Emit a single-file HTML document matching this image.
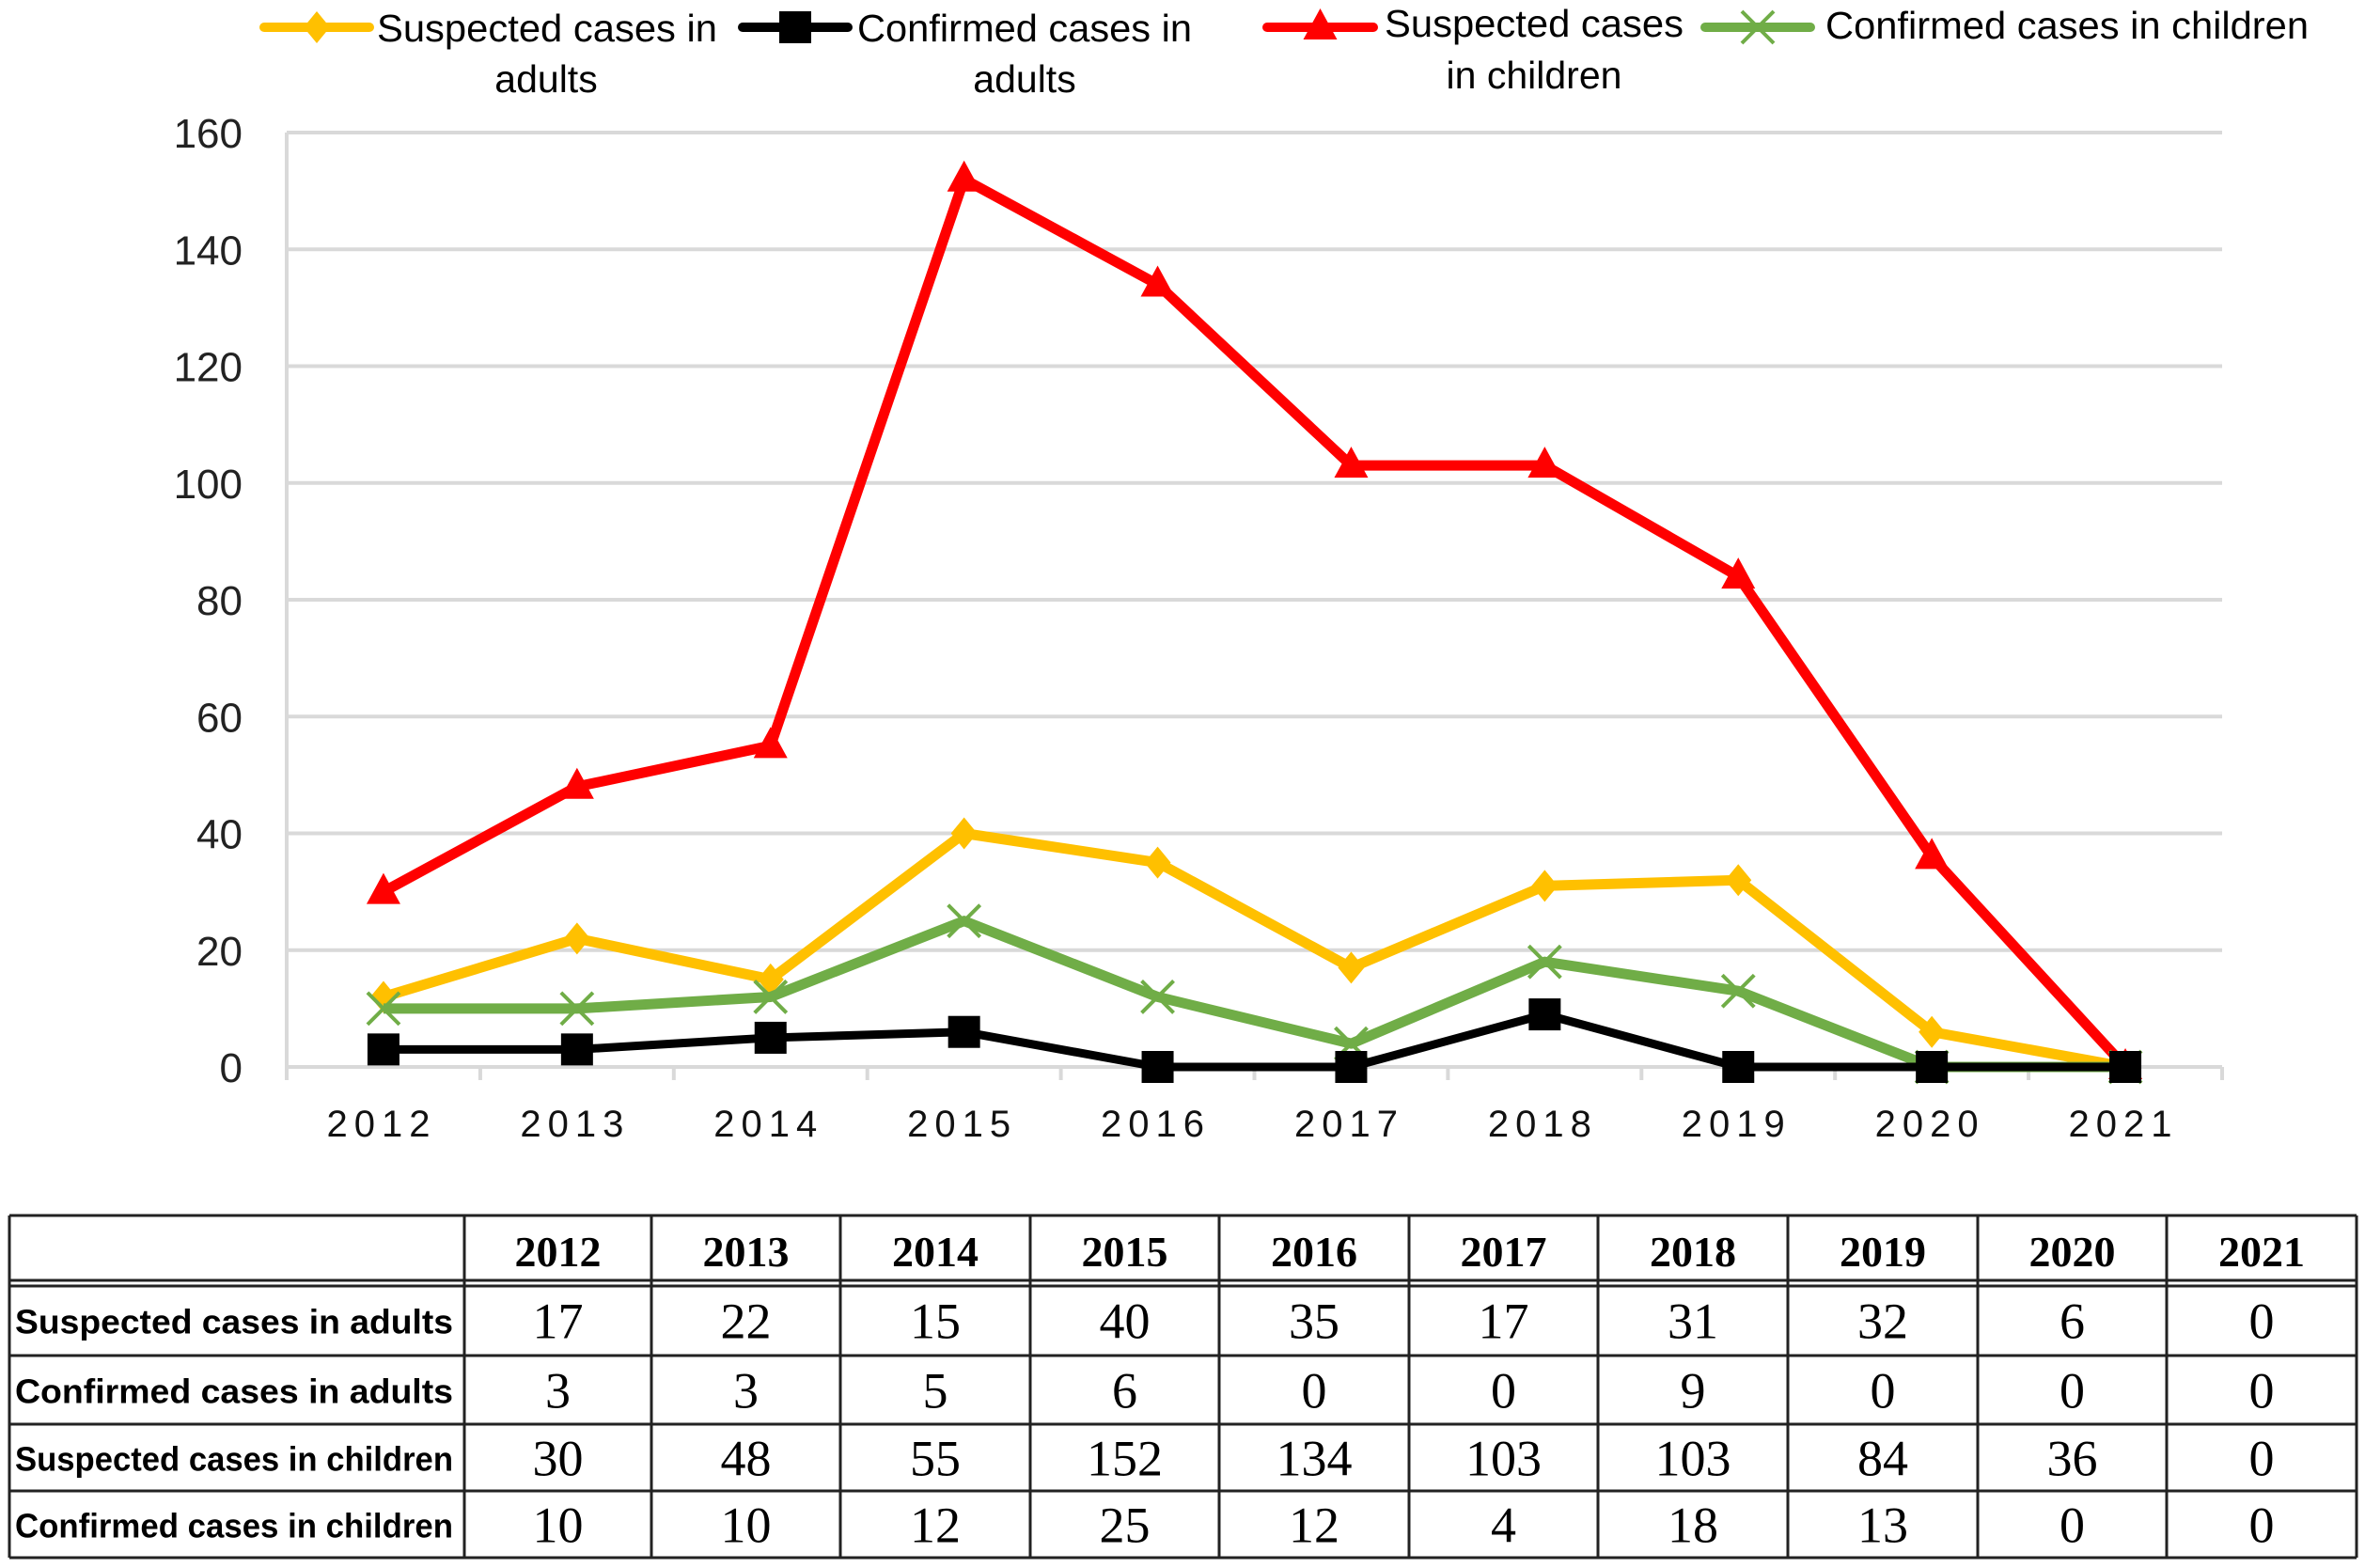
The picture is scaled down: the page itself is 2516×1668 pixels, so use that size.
<!DOCTYPE html>
<html><head><meta charset="utf-8"><style>
html,body{margin:0;padding:0;background:#fff;}
svg{display:block;}
</style></head><body>
<svg id="chart" width="2516" height="1668" viewBox="0 0 2516 1668" xmlns="http://www.w3.org/2000/svg" font-family="Liberation Sans, sans-serif">
<g id="grid"></g>
<g id="yticks"></g>
<g id="xaxis"></g>
<g id="series"></g>
<g id="legend"></g>
<g id="table"></g>
</svg>
<script>
const categories = ["2012","2013","2014","2015","2016","2017","2018","2019","2020","2021"];
const yTicks = [0,20,40,60,80,100,120,140,160];
const suspectedAdults = [12,22,15,40,35,17,31,32,6,0];
const confirmedAdults = [3,3,5,6,0,0,9,0,0,0];
const suspectedChildren = [30,48,55,152,134,103,103,84,36,0];
const confirmedChildren = [10,10,12,25,12,4,18,13,0,0];
const tableSuspectedAdults = ["17","22","15","40","35","17","31","32","6","0"];
const tableConfirmedAdults = ["3","3","5","6","0","0","9","0","0","0"];
const tableSuspectedChildren = ["30","48","55","152","134","103","103","84","36","0"];
const tableConfirmedChildren = ["10","10","12","25","12","4","18","13","0","0"];

const NS="http://www.w3.org/2000/svg";
function mk(tag,attrs,parent,text){const e=document.createElementNS(NS,tag);for(const k in attrs)e.setAttribute(k,attrs[k]);if(text!==undefined)e.textContent=text;parent.appendChild(e);return e;}
const L=305,R=2364,Y0=1135,Y1=141,YMAX=160;
const step=(R-L)/categories.length;
const xs=i=>L+step*(i+0.5);
const ys=v=>Y0-(v/YMAX)*(Y0-Y1);

const grid=document.getElementById('grid'),yt=document.getElementById('yticks'),xa=document.getElementById('xaxis');
yTicks.forEach(t=>{
  if(t>0){const g=mk('line',{x1:L,x2:R,y1:ys(t),y2:ys(t),stroke:'#d9d9d9','stroke-width':4},grid);
  
  }
  const tx=mk('text',{x:258,y:ys(t)+16,'text-anchor':'end','font-size':44,fill:'#222'},yt,String(t));
  
  
});
const yax=mk('line',{x1:L,x2:L,y1:Y1,y2:Y0,stroke:'#d9d9d9','stroke-width':4},xa);


const xl=mk('line',{x1:L,x2:R,y1:Y0,y2:Y0,stroke:'#d9d9d9','stroke-width':4},xa);


for(let i=0;i<=categories.length;i++){const tk=mk('line',{x1:L+step*i,x2:L+step*i,y1:Y0,y2:Y0+14,stroke:'#d9d9d9','stroke-width':4},xa);
  
  }
categories.forEach((c,i)=>{const t=mk('text',{x:xs(i)-2,y:1209,'text-anchor':'middle','font-size':40,'letter-spacing':7,fill:'#111'},xa,c);
  
  });

function marker(type,x,y,color,parent){
  let e;
  if(type==='diamond')e=mk('polygon',{points:`${x},${y-17} ${x+14},${y} ${x},${y+17} ${x-14},${y}`,fill:color},parent);
  else if(type==='square')e=mk('rect',{x:x-17,y:y-17,width:34,height:34,fill:color},parent);
  else if(type==='triangle')e=mk('polygon',{points:`${x},${y-20} ${x+18},${y+13} ${x-18},${y+13}`,fill:color},parent);
  else {e=mk('path',{d:`M${x-17},${y-17}L${x+17},${y+17}M${x+17},${y-17}L${x-17},${y+17}`,stroke:color,'stroke-width':4,fill:'none'},parent);}
  return e;
}
const seriesDefs=[
  {name:'suspected-children',data:suspectedChildren,color:'#ff0000',m:'triangle',w:11},
  {name:'suspected-adults',data:suspectedAdults,color:'#ffc000',m:'diamond',w:11},
  {name:'confirmed-children',data:confirmedChildren,color:'#70ad47',m:'x',w:11},
  {name:'confirmed-adults',data:confirmedAdults,color:'#000000',m:'square',w:9}
];
const sg=document.getElementById('series');
seriesDefs.forEach(s=>{
  const g=mk('g',{},sg);
  
  
  const p=mk('polyline',{points:s.data.map((v,i)=>xs(i)+','+ys(v)).join(' '),fill:'none',stroke:s.color,'stroke-width':s.w,'stroke-linejoin':'round'},g);
  
  
  s.data.forEach((v,i)=>{const m=marker(s.m,xs(i),ys(v),s.color,g);
    
    });
});

// legend
const lg=document.getElementById('legend');
const legendItems=[
  {x1:281,x2:393,y:29,color:'#ffc000',m:'diamond',l1:'Suspected cases in',l1x:401,l1y:44,w1:362,l2:'adults',l2x:581,l2y:98,name:'suspected-adults'},
  {x1:790,x2:902,y:29,color:'#000',m:'square',l1:'Confirmed cases in',l1x:912,l1y:44,w1:356,l2:'adults',l2x:1090,l2y:98,name:'confirmed-adults'},
  {x1:1348,x2:1461,y:29,color:'#ff0000',m:'triangle',l1:'Suspected cases',l1x:1473,l1y:39,w1:318,l2:'in children',l2x:1632,l2y:94,name:'suspected-children'},
  {x1:1814,x2:1926,y:29,color:'#70ad47',m:'x',l1:'Confirmed cases in children',l1x:1942,l1y:41,w1:514,l2:null,name:'confirmed-children'}
];
legendItems.forEach(it=>{
  const g=mk('g',{},lg);
  
  
  mk('line',{x1:it.x1,x2:it.x2,y1:it.y,y2:it.y,stroke:it.color,'stroke-width':10,'stroke-linecap':'round'},g);
  marker(it.m,(it.x1+it.x2)/2,it.y,it.color,g);
  mk('text',{x:it.l1x,y:it.l1y,'font-size':41,fill:'#000',textLength:it.w1,lengthAdjust:'spacingAndGlyphs'},g,it.l1);
  if(it.l2)mk('text',{x:it.l2x,y:it.l2y,'font-size':41,fill:'#000','text-anchor':'middle'},g,it.l2);
});

// table
const tb=document.getElementById('table');
const colX=[10,494,693,894,1096,1297,1499,1700,1902,2104,2305,2507];
const rowY=[1293,1367,1442,1515,1586,1657];
const rows=[
  ['Suspected cases in adults',tableSuspectedAdults],
  ['Confirmed cases in adults',tableConfirmedAdults],
  ['Suspected cases in children',tableSuspectedChildren],
  ['Confirmed cases in children',tableConfirmedChildren]
];
const tl=(a)=>{const e=mk('line',a,tb);};
tl({x1:10,x2:2507,y1:1293,y2:1293,stroke:'#222','stroke-width':3});
tl({x1:10,x2:2507,y1:1362,y2:1362,stroke:'#222','stroke-width':3});
tl({x1:10,x2:2507,y1:1368,y2:1368,stroke:'#222','stroke-width':3});
[1442,1515,1586].forEach(y=>tl({x1:10,x2:2507,y1:y,y2:y,stroke:'#222','stroke-width':3}));
tl({x1:10,x2:2507,y1:1657,y2:1657,stroke:'#222','stroke-width':3});
colX.forEach(x=>tl({x1:x,x2:x,y1:1293,y2:1657,stroke:'#222','stroke-width':3}));
categories.forEach((c,i)=>{const t=mk('text',{x:(colX[i+1]+colX[i+2])/2,y:1347,'text-anchor':'middle','font-size':46,'font-weight':'bold','font-family':'Liberation Serif, serif',fill:'#000'},tb,c);
  
  });
rows.forEach((r,ri)=>{
  const yc=(rowY[ri+1]+rowY[ri+2])/2;
  const lab=mk('text',{x:16,y:yc+14,'font-size':36,'font-weight':'bold',fill:'#000',textLength:466,lengthAdjust:'spacingAndGlyphs'},tb,r[0]);
  
  
  r[1].forEach((v,i)=>{const t=mk('text',{x:(colX[i+1]+colX[i+2])/2,y:yc+19,'text-anchor':'middle','font-size':54,'font-family':'Liberation Serif, serif',fill:'#000'},tb,v);
    
    });
});
</script>
</body></html>
